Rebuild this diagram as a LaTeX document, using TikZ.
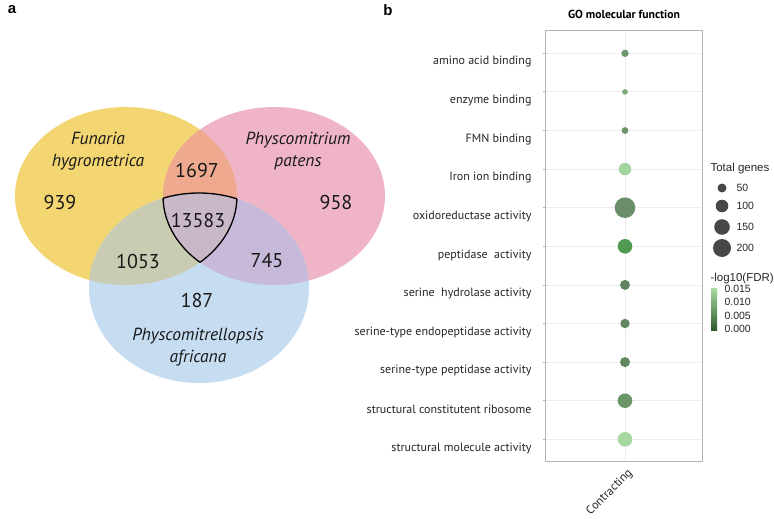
\documentclass[tikz,border=0pt]{standalone}
\usepackage{fontspec}
\setmainfont{PT Sans}
\newfontfamily\legendfont{Liberation Sans}
\definecolor{fhYellow}{HTML}{F3D571}
\definecolor{ppPink}{HTML}{F0B4C7}
\definecolor{paBlue}{HTML}{C5DCF1}
\definecolor{fhpp}{HTML}{EFA98F}
\definecolor{fhpa}{HTML}{C9CCB2}
\definecolor{pppa}{HTML}{C7B9DA}
\definecolor{allthree}{HTML}{C9B8C8}
\definecolor{gridgray}{HTML}{EDEDED}
\definecolor{framegray}{HTML}{B5B5B5}
\definecolor{dotgray}{HTML}{474747}
\newcommand{\fhEllipse}{(126,196) ellipse [x radius=111, y radius=89]}
\newcommand{\ppEllipse}{(274,196) ellipse [x radius=111, y radius=89]}
\newcommand{\paEllipse}{(199,288) ellipse [x radius=110, y radius=95]}
\tikzset{
  panel/.style={font=\legendfont\bfseries\fontsize{15}{15}\selectfont},
  count/.style={text=black!90, font=\fontsize{20}{20}\selectfont},
  species/.style={align=center, text=black!90, font=\fontsize{17.5}{22}\selectfont\itshape},
  term/.style={anchor=east, text=black!85, font=\fontsize{12}{12}\selectfont},
  dot/.style={circle, inner sep=0pt, draw=none},
  legend/.style={anchor=west, text=black!85, font=\legendfont\fontsize{10.5}{10.5}\selectfont},
}
\begin{document}
\begin{tikzpicture}[x=1pt,y=-1pt]
\useasboundingbox[fill=white] (0,0) rectangle (774,519);
% panel a: Venn diagram
\fill[fhYellow] \fhEllipse;
\fill[ppPink] \ppEllipse;
\fill[paBlue] \paEllipse;
\begin{scope}
\clip \fhEllipse;
\fill[fhpp] \ppEllipse;
\fill[fhpa] \paEllipse;
\end{scope}
\begin{scope}
\clip \ppEllipse;
\fill[pppa] \paEllipse;
\end{scope}
\begin{scope}
\clip \fhEllipse; \clip \ppEllipse;
\fill[allthree] \paEllipse;
\draw[line width=1.3pt] \paEllipse;
\end{scope}
\begin{scope}
\clip \fhEllipse; \clip \paEllipse;
\draw[line width=1.3pt] \ppEllipse;
\end{scope}
\begin{scope}
\clip \ppEllipse; \clip \paEllipse;
\draw[line width=1.3pt] \fhEllipse;
\end{scope}
\node[panel] (pa) at (12,10) {a};
\node[species] (fh) at (98,151) {Funaria\\hygrometrica};
\node[species] (pp) at (298,151) {Physcomitrium\\patens};
\node[species] (af) at (198,347) {Physcomitrellopsis\\africana};
\node[count] (n939) at (60,202) {939};
\node[count] (n958) at (336,202) {958};
\node[count] (n1697) at (197,170) {1697};
\node[count] (n13583) at (198,220) {13583};
\node[count] (n1053) at (138,261) {1053};
\node[count] (n745) at (267,261) {745};
\node[count] (n187) at (197,300) {187};
% panel b: GO dot plot
\node[panel] (pb) at (388,10) {b};
\node[font=\bfseries\fontsize{11.7}{11.7}\selectfont] (title) at (624,14) {GO molecular function};
\draw[gridgray, line width=0.8pt] (625,30) -- (625,461);
\draw[gridgray, line width=0.8pt] (546,53.3) -- (702,53.3);
\draw[gridgray, line width=0.8pt] (546,91.9) -- (702,91.9);
\draw[gridgray, line width=0.8pt] (546,130.5) -- (702,130.5);
\draw[gridgray, line width=0.8pt] (546,169.1) -- (702,169.1);
\draw[gridgray, line width=0.8pt] (546,207.7) -- (702,207.7);
\draw[gridgray, line width=0.8pt] (546,246.3) -- (702,246.3);
\draw[gridgray, line width=0.8pt] (546,284.9) -- (702,284.9);
\draw[gridgray, line width=0.8pt] (546,323.5) -- (702,323.5);
\draw[gridgray, line width=0.8pt] (546,362.1) -- (702,362.1);
\draw[gridgray, line width=0.8pt] (546,400.7) -- (702,400.7);
\draw[gridgray, line width=0.8pt] (546,439.3) -- (702,439.3);
\draw[framegray, line width=0.9pt] (545.7,30) rectangle (702.3,461);
% left ticks
\draw[framegray, line width=0.8pt] (543,53.3) -- (545.7,53.3) (543,91.9) -- (545.7,91.9) (543,130.5) -- (545.7,130.5) (543,169.1) -- (545.7,169.1);
\draw[framegray, line width=0.8pt] (543,207.7) -- (545.7,207.7) (543,246.3) -- (545.7,246.3) (543,284.9) -- (545.7,284.9) (543,323.5) -- (545.7,323.5);
\draw[framegray, line width=0.8pt] (543,362.1) -- (545.7,362.1) (543,400.7) -- (545.7,400.7) (543,439.3) -- (545.7,439.3);
\node[term] (t1) at (535,62) {amino acid binding};
\node[term] (t2) at (535,100.6) {enzyme binding};
\node[term] (t3) at (535,139.2) {FMN binding};
\node[term] (t4) at (535,177.8) {Iron ion binding};
\node[term] (t5) at (535,216.4) {oxidoreductase activity};
\node[term] (t6) at (535,255) {peptidase\ \ activity};
\node[term] (t7) at (535,293.6) {serine\ \ hydrolase activity};
\node[term] (t8) at (535,332.2) {serine-type endopeptidase activity};
\node[term] (t9) at (535,370.8) {serine-type peptidase activity};
\node[term] (t10) at (535,409.4) {structural constitutent ribosome};
\node[term] (t11) at (535,448) {structural molecule activity};
\node[dot, minimum size=7.4pt, fill={rgb,255:red,111;green,153;blue,112}] (d1) at (625,53.3) {};
\node[dot, minimum size=5.6pt, fill={rgb,255:red,127;green,168;blue,127}] (d2) at (625,91.9) {};
\node[dot, minimum size=6.8pt, fill={rgb,255:red,107;green,148;blue,107}] (d3) at (625,130.5) {};
\node[dot, minimum size=12.4pt, fill={rgb,255:red,163;green,212;blue,159}] (d4) at (625,169.1) {};
\node[dot, minimum size=20.6pt, fill={rgb,255:red,107;green,141;blue,105}] (d5) at (625,207.7) {};
\node[dot, minimum size=14.6pt, fill={rgb,255:red,79;green,153;blue,80}] (d6) at (625,246.3) {};
\node[dot, minimum size=10pt, fill={rgb,255:red,95;green,134;blue,96}] (d7) at (625,284.9) {};
\node[dot, minimum size=9.4pt, fill={rgb,255:red,95;green,134;blue,96}] (d8) at (625,323.5) {};
\node[dot, minimum size=10pt, fill={rgb,255:red,95;green,134;blue,96}] (d9) at (625,362.1) {};
\node[dot, minimum size=14.6pt, fill={rgb,255:red,106;green,150;blue,104}] (d10) at (625,400.7) {};
\node[dot, minimum size=14.6pt, fill={rgb,255:red,167;green,216;blue,162}] (d11) at (625,439.3) {};
\node[rotate=45, anchor=east, text=black!85, font=\fontsize{12}{12}\selectfont] (cond) at (633,469) {Contracting};
% legends
\node[legend, font=\legendfont\fontsize{11.5}{11.5}\selectfont] (size) at (707,169) {Total genes};
\node[dot, minimum size=9pt, fill=dotgray] (s50) at (722,188) {};
\node[dot, minimum size=12.6pt, fill=dotgray] (s100) at (722,206) {};
\node[dot, minimum size=15.6pt, fill=dotgray] (s150) at (722,227) {};
\node[dot, minimum size=18pt, fill=dotgray] (s200) at (722,248) {};
\node[legend] (l50) at (733,188) {50};
\node[legend] (l100) at (733,206) {100};
\node[legend] (l150) at (733,227) {150};
\node[legend] (l200) at (733,248) {200};
\node[legend, font=\legendfont\fontsize{11.5}{11.5}\selectfont] (fdr) at (707,279) {-log10(FDR)};
\shade[top color={rgb,255:red,168;green,220;blue,160}, bottom color={rgb,255:red,44;green,92;blue,44}] (711,288) rectangle (717,330);
\node[legend] (c15) at (721,289) {0.015};
\node[legend] (c10) at (721,302) {0.010};
\node[legend] (c05) at (721,315.5) {0.005};
\node[legend] (c00) at (721,329) {0.000};
\end{tikzpicture}
\end{document}
